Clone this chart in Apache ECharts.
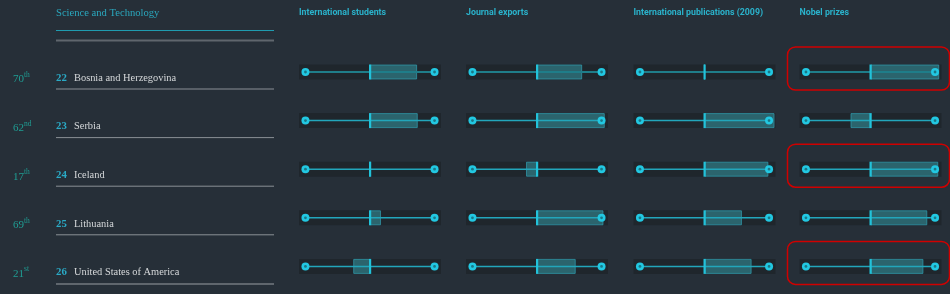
<!DOCTYPE html>
<html>
<head>
<meta charset="utf-8">
<script src="https://cdn.jsdelivr.net/npm/echarts@6/dist/echarts.min.js"></script>
<style>
html,body{margin:0;padding:0;background:#262f38;}
#chart{width:950px;height:294px;}
</style>
</head>
<body>
<div id="chart"></div>
<script>
// ---- data ----
const countries = ["Bosnia and Herzegovina", "Serbia", "Iceland", "Lithuania", "United States of America"];
const positions = ["22", "23", "24", "25", "26"];
const ranks = ["70", "62", "17", "69", "21"];
const rankSuffix = ["th", "nd", "th", "th", "st"];
const sectionTitle = "Science and Technology";
const metrics = ["International students", "Journal exports", "International publications (2009)", "Nobel prizes"];
const internationalStudents = [0.73, 0.74, 0, 0.17, -0.26];
const journalExports = [0.70, 1.05, -0.17, 1.03, 0.60];
const internationalPublications = [0, 1.085, 0.99, 0.58, 0.73];
const nobelPrizes = [1.065, -0.31, 1.05, 0.88, 0.82];
const scaleEnds = [-1, 1];
const highlightedRows = [0, 2, 4]; // Nobel prizes column annotations
const highlightedColumn = 3;

const metricValues = [internationalStudents, journalExports, internationalPublications, nobelPrizes];

// ---- layout ----
const colCenters = [370, 537, 704.5, 870.5];
const halfTrack = 71;
const gridTop = 47.7, rowH = 48.6;
const axisMin = -1.1, axisMax = 1.1;

const chart = echarts.init(document.getElementById('chart'), null, {renderer: 'canvas'});

const grids = [], xAxes = [], yAxes = [], series = [];
metrics.forEach((m, c) => {
  grids.push({left: colCenters[c] - halfTrack, width: halfTrack * 2, top: gridTop, height: rowH * countries.length});
  xAxes.push({type: 'value', gridIndex: c, min: axisMin, max: axisMax, show: false});
  yAxes.push({type: 'category', gridIndex: c, data: countries, inverse: true, show: false});
  series.push({
    type: 'bar', xAxisIndex: c, yAxisIndex: c, data: metricValues[c],
    barWidth: 15, showBackground: true,
    backgroundStyle: {color: '#1f262c'},
    itemStyle: {color: '#2b646d', borderColor: 'rgba(48,160,178,0.7)', borderWidth: 1},
    animation: false, z: 2, silent: true
  });
  series.push({
    type: 'custom', xAxisIndex: c, yAxisIndex: c,
    data: countries.map((n, i) => [scaleEnds[0], i, scaleEnds[1]]),
    encode: {x: [0, 2], y: 1},
    z: 3, silent: true, animation: false,
    renderItem: function (params, api) {
      const row = api.value(1);
      const p0 = api.coord([api.value(0), row]);
      const p1 = api.coord([api.value(2), row]);
      const pz = api.coord([0, row]);
      const dim = row === 0;
      return {
        type: 'group', children: [
          {type: 'line', shape: {x1: p0[0], y1: p0[1], x2: p1[0], y2: p1[1]},
           style: {stroke: dim ? '#1f7d89' : '#22a6bb', lineWidth: dim ? 2 : 1.5}},
          {type: 'rect', shape: {x: pz[0] - 1, y: pz[1] - 7.5, width: 2.2, height: 15},
           style: {fill: '#22c2da'}},
          {type: 'circle', shape: {cx: p0[0], cy: p0[1], r: 4}, style: {fill: '#22c8e2'}},
          {type: 'circle', shape: {cx: p0[0], cy: p0[1], r: 1.4}, style: {fill: '#1a7886'}},
          {type: 'circle', shape: {cx: p1[0], cy: p1[1], r: 4}, style: {fill: '#22c8e2'}},
          {type: 'circle', shape: {cx: p1[0], cy: p1[1], r: 1.4}, style: {fill: '#1a7886'}}
        ]
      };
    }
  });
});

chart.setOption({
  backgroundColor: '#262f38',
  animation: false,
  grid: grids, xAxis: xAxes, yAxis: yAxes, series: series
});

// ---- text & decoration ----
const serif = '"Liberation Serif", "DejaVu Serif", serif';
const tableLeft = 56, tableRight = 274;
const g = [];
g.push({type: 'text', x: tableLeft, y: 13, silent: true,
  style: {text: sectionTitle, fill: '#2aa8be', font: '10.6px ' + serif, verticalAlign: 'middle'}});
g.push({type: 'line', silent: true, shape: {x1: tableLeft, y1: 30.5, x2: tableRight, y2: 30.5},
  style: {stroke: '#1f9cb0', lineWidth: 1}});
g.push({type: 'line', silent: true, shape: {x1: tableLeft, y1: 40.5, x2: tableRight, y2: 40.5},
  style: {stroke: '#5f666d', lineWidth: 2}});

metrics.forEach((m, c) => {
  const px = chart.convertToPixel({xAxisIndex: c}, axisMin);
  g.push({type: 'text', x: px, y: 13, silent: true,
    style: {text: m, fill: '#2ab2cb', font: 'bold 8.8px Roboto', verticalAlign: 'middle'}});
});

countries.forEach((name, i) => {
  const cy = chart.convertToPixel({yAxisIndex: 0}, i);
  g.push({type: 'text', x: 13, y: cy + 6, silent: true,
    style: {
      text: '{n|' + ranks[i] + '}{s|' + rankSuffix[i] + '}',
      verticalAlign: 'middle',
      rich: {
        n: {fill: '#1f9e94', font: '11px ' + serif, lineHeight: 14, verticalAlign: 'bottom'},
        s: {fill: '#1f9e94', font: '7.5px ' + serif, lineHeight: 14, verticalAlign: 'top'}
      }
    }});
  g.push({type: 'text', x: tableLeft, y: cy + 6, silent: true,
    style: {text: positions[i], fill: '#2aaac6', font: 'bold 10.8px ' + serif, verticalAlign: 'middle'}});
  g.push({type: 'text', x: 74, y: cy + 6, silent: true,
    style: {text: name, fill: '#d6d9db', font: '10.4px ' + serif, verticalAlign: 'middle'}});
  const last = i === countries.length - 1;
  const ly = cy + (last ? 17.5 : 17);
  g.push({type: 'line', silent: true, shape: {x1: tableLeft, y1: ly, x2: tableRight, y2: ly},
    style: {stroke: last ? '#5f666d' : '#8a9096', lineWidth: last ? 2 : 1}});
});

highlightedRows.forEach((r) => {
  const cy = chart.convertToPixel({yAxisIndex: highlightedColumn}, r);
  const x0 = chart.convertToPixel({xAxisIndex: highlightedColumn}, axisMin);
  const x1 = chart.convertToPixel({xAxisIndex: highlightedColumn}, axisMax);
  g.push({type: 'rect', silent: true, z: 10,
    shape: {x: x0 - 12, y: cy - 25, width: (x1 - x0) + 20, height: 43, r: 8},
    style: {fill: 'none', stroke: '#d00000', lineWidth: 1.5}});
});

chart.setOption({graphic: g});
</script>
</body>
</html>
